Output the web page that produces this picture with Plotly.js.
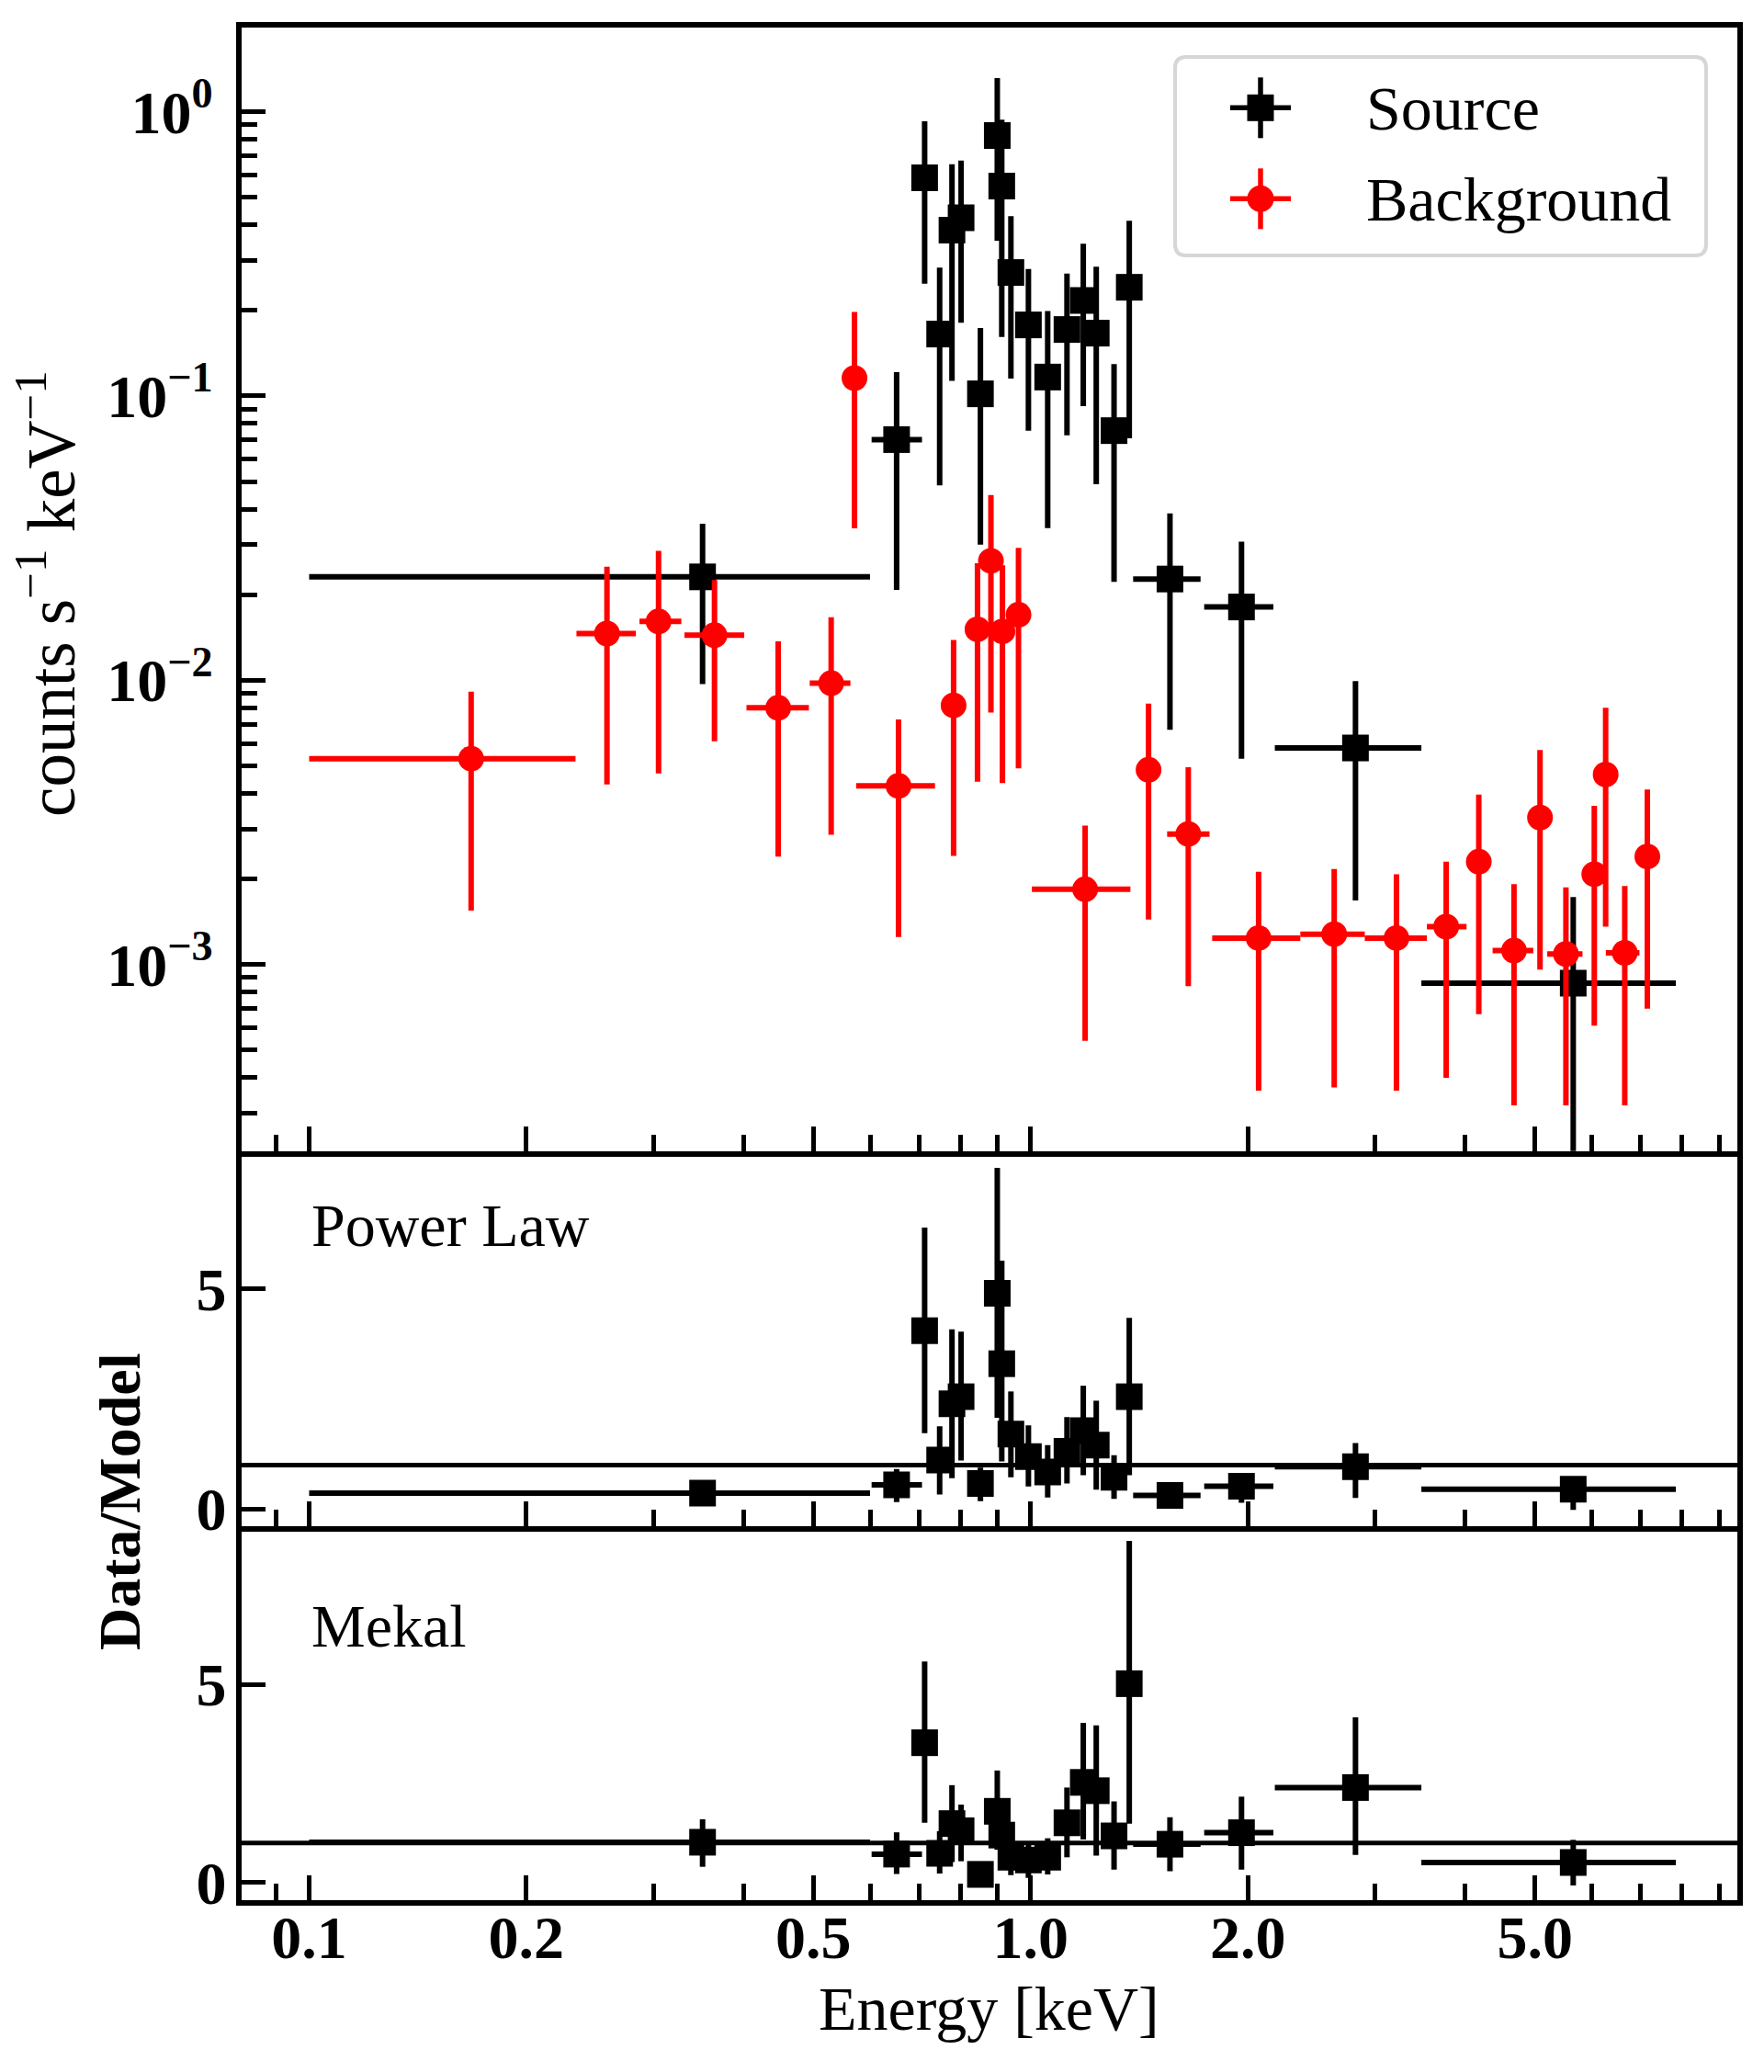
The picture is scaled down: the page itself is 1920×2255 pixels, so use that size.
<!DOCTYPE html>
<html>
<head>
<meta charset="utf-8">
<script src="https://cdn.plot.ly/plotly-3.0.1.min.js"></script>
<style>
  html, body { margin: 0; padding: 0; background: #fff; }
  #chart { width: 1920px; height: 2255px; }
</style>
</head>
<body>
<div id="chart"></div>
<script>
// Source spectrum (keV), bin half-widths below / above
const srcEnergy = [0.351, 0.652, 0.713, 0.748, 0.778, 0.801, 0.852, 0.899, 0.912, 0.939, 0.993,
                   1.056, 1.123, 1.183, 1.233, 1.305, 1.370, 1.560, 1.960, 2.820, 5.650];
const srcEMinus = [0.251, 0.050, 0.015, 0.015, 0.015, 0.015, 0.015, 0.015, 0.015, 0.015, 0.020,
                   0.020, 0.020, 0.020, 0.020, 0.020, 0.020, 0.173, 0.220, 0.640, 2.170];
const srcEPlus  = [0.248, 0.055, 0.015, 0.015, 0.015, 0.015, 0.015, 0.015, 0.015, 0.015, 0.020,
                   0.020, 0.020, 0.020, 0.020, 0.020, 0.020, 0.160, 0.210, 0.660, 2.190];

// counts s^-1 keV^-1
const srcRate   = [0.0231, 0.0702, 0.585, 0.165, 0.383, 0.423, 0.1017, 0.823, 0.547, 0.2716, 0.1777,
                   0.1165, 0.1712, 0.2166, 0.1662, 0.0755, 0.241, 0.0227, 0.0181, 0.00578, 0.00086];
const srcRateUp = [0.0124, 0.051, 0.34, 0.1175, 0.27, 0.25, 0.0716, 0.487, 0.39, 0.157, 0.102,
                   0.0822, 0.0983, 0.1262, 0.1183, 0.0538, 0.172, 0.0159, 0.0126, 0.00416, 0.00087];
const srcRateDn = [0.0134, 0.0494, 0.337, 0.1165, 0.27, 0.242, 0.0717, 0.472, 0.386, 0.1566, 0.1022,
                   0.0822, 0.0985, 0.1246, 0.1173, 0.0533, 0.170, 0.016, 0.0128, 0.0041, 0.000859];

// Data / Model, power law
const plRatio = [0.36, 0.55, 4.05, 1.11, 2.39, 2.55, 0.58, 4.90, 3.30, 1.70, 1.19,
                 0.84, 1.31, 1.78, 1.45, 0.72, 2.55, 0.31, 0.52, 0.96, 0.45];
const plUp    = [0.23, 0.36, 2.34, 0.77, 1.69, 1.48, 0.36, 2.85, 2.34, 0.97, 0.71,
                 0.61, 0.78, 1.02, 1.01, 0.50, 1.79, 0.20, 0.27, 0.54, 0.27];
const plDn    = [0.25, 0.39, 2.33, 0.78, 1.69, 1.45, 0.40, 2.83, 2.22, 0.98, 0.68,
                 0.58, 0.73, 1.01, 1.01, 0.49, 1.78, 0.22, 0.38, 0.71, 0.47];

// Data / Model, mekal
const mekRatio = [1.02, 0.72, 3.53, 0.74, 1.49, 1.31, 0.21, 1.80, 1.20, 0.64, 0.57,
                  0.64, 1.51, 2.53, 2.32, 1.18, 5.02, 0.97, 1.26, 2.40, 0.51];
const mekUp    = [0.58, 0.55, 2.05, 0.56, 0.97, 0.66, 0.15, 1.03, 0.60, 0.45, 0.45,
                  0.48, 0.89, 1.50, 1.65, 0.87, 3.60, 0.68, 0.91, 1.77, 0.57];
const mekDn    = [0.62, 0.50, 2.02, 0.51, 0.97, 0.77, 0.15, 0.97, 0.60, 0.45, 0.45,
                  0.43, 0.87, 1.44, 1.64, 0.85, 3.53, 0.68, 0.93, 1.70, 0.58];

// Background spectrum
const bkgEnergy = [0.1677, 0.2587, 0.305, 0.3646, 0.4468, 0.5291, 0.570, 0.656, 0.782, 0.844, 0.881,
                   0.914, 0.962, 1.19, 1.457, 1.654, 2.07, 2.635, 3.214, 3.767, 4.18,
                   4.677, 5.082, 5.52, 6.043, 6.266, 6.66, 7.158];
const bkgEMinus = [0.0677, 0.024, 0.018, 0.0333, 0.043, 0.035, 0.008, 0.083, 0.02, 0.02, 0.01,
                   0.01, 0.015, 0.186, 0.03, 0.108, 0.285, 0.27, 0.309, 0.225, 0.06,
                   0.309, 0.06, 0.32, 0.08, 0.05, 0.39, 0.1];
const bkgEPlus  = [0.0663, 0.025, 0.023, 0.0363, 0.046, 0.0335, 0.008, 0.081, 0.02, 0.02, 0.01,
                   0.01, 0.015, 0.185, 0.03, 0.116, 0.295, 0.27, 0.328, 0.253, 0.06,
                   0.297, 0.06, 0.30, 0.08, 0.05, 0.32, 0.1];
const bkgRate   = [0.0053, 0.0146, 0.0161, 0.0144, 0.0080, 0.00976, 0.1155, 0.00425, 0.00816, 0.0151, 0.0263,
                   0.01485, 0.0170, 0.00184, 0.00484, 0.00288, 0.00124, 0.00128, 0.00124, 0.00136, 0.0023,
                   0.00112, 0.00329, 0.00109, 0.00208, 0.00466, 0.0011, 0.0024];
const bkgRateUp = [0.00382, 0.0105, 0.0124, 0.0081, 0.0057, 0.0069, 0.0818, 0.00303, 0.0057, 0.0107, 0.0185,
                   0.0105, 0.0122, 0.00124, 0.00344, 0.00206, 0.00088, 0.00089, 0.00084, 0.00094, 0.00166,
                   0.0008, 0.00239, 0.00078, 0.00154, 0.00334, 0.00079, 0.00173];
const bkgRateDn = [0.00375, 0.0103, 0.0114, 0.0083, 0.0056, 0.0069, 0.0813, 0.003, 0.00575, 0.0107, 0.0186,
                   0.0105, 0.0121, 0.0013, 0.0034, 0.00204, 0.00088, 0.00091, 0.00088, 0.00096, 0.00163,
                   0.0008, 0.00233, 0.00077, 0.00147, 0.0033, 0.00078, 0.0017];

const W = 1920, H = 2255;
const px = x => x / W;
const py = y => 1 - y / H;
const SERIF = 'Liberation Serif';

function errTrace(x, xm, xp, y, yu, yd, color, symbol, size, xa, ya) {
  return {
    x: x, y: y, xaxis: xa, yaxis: ya,
    type: 'scatter', mode: 'markers',
    marker: { symbol: symbol, size: size, color: color, line: { width: 0 } },
    error_x: { type: 'data', symmetric: false, array: xp, arrayminus: xm,
               color: color, thickness: 6, width: 0 },
    error_y: { type: 'data', symmetric: false, array: yu, arrayminus: yd,
               color: color, thickness: 6, width: 0 },
    showlegend: false, hoverinfo: 'skip'
  };
}

const traces = [
  errTrace(srcEnergy, srcEMinus, srcEPlus, srcRate, srcRateUp, srcRateDn, '#000000', 'square', 29, 'x3', 'y3'),
  errTrace(bkgEnergy, bkgEMinus, bkgEPlus, bkgRate, bkgRateUp, bkgRateDn, '#ff0000', 'circle', 28, 'x3', 'y3'),
  errTrace(srcEnergy, srcEMinus, srcEPlus, plRatio, plUp, plDn, '#000000', 'square', 29, 'x2', 'y2'),
  errTrace(srcEnergy, srcEMinus, srcEPlus, mekRatio, mekUp, mekDn, '#000000', 'square', 29, 'x', 'y')
];

// axis ticks
const xMajor = [0.1, 0.2, 0.5, 1, 2, 5];
const xMajorText = ['0.1', '0.2', '0.5', '1.0', '2.0', '5.0'];
const xMinor = [0.09, 0.3, 0.4, 0.6, 0.7, 0.8, 0.9, 3, 4, 6, 7, 8, 9];
const yMajor = [0.001, 0.01, 0.1, 1];
const yMajorText = ['10<sup>−3</sup>', '10<sup>−2</sup>', '10<sup>−1</sup>', '10<sup>0</sup>'];
const yMinor = [];
[1e-4, 1e-3, 1e-2, 1e-1].forEach(d => { for (let k = 2; k <= 9; k++) yMinor.push(k * d); });

const tickFont = { family: SERIF, size: 66, color: '#000', weight: 'bold' };
const xDomain = [px(262.5), px(1891)];
const xRange = [Math.log10(0.0805), Math.log10(9.54)];

function xAxis(anchor, labels, mirror) {
  return {
    type: 'log', domain: xDomain, range: xRange, anchor: anchor,
    tickvals: xMajor, ticktext: xMajorText, showticklabels: labels,
    ticks: 'inside', ticklen: 27, tickwidth: 5, tickcolor: '#000',
    minor: { tickvals: xMinor, ticks: 'inside', ticklen: 18, tickwidth: 4.5, tickcolor: '#000', showgrid: false },
    showline: true, linewidth: 5.5, linecolor: '#000', mirror: mirror,
    showgrid: false, zeroline: false, automargin: false,
    tickfont: tickFont, ticklabelstandoff: -22
  };
}

function yLin(domain, range, anchor) {
  return {
    domain: domain, range: range, anchor: anchor,
    tickvals: [0, 5], ticktext: ['0', '5'],
    ticks: 'inside', ticklen: 27, tickwidth: 5, tickcolor: '#000',
    showline: true, linewidth: 5.5, linecolor: '#000', mirror: true,
    showgrid: false, zeroline: false, automargin: false,
    tickfont: tickFont, ticklabelstandoff: -3
  };
}

const layout = {
  width: W, height: H,
  margin: { l: 0, r: 0, t: 0, b: 0 },
  paper_bgcolor: '#fff', plot_bgcolor: '#fff',
  showlegend: false,
  font: { family: SERIF, color: '#000' },
  xaxis: xAxis('y', true, false),
  xaxis2: xAxis('y2', false, false),
  xaxis3: xAxis('y3', false, true),
  yaxis: yLin([py(2067.7), py(1660.7)], [-0.435, 9.0], 'x'),
  yaxis2: yLin([py(1660.7), py(1252.7)], [-0.384, 8.13], 'x2'),
  yaxis3: {
    type: 'log', domain: [py(1252.7), py(29.6)], anchor: 'x3',
    range: [Math.log10(2.21e-4), Math.log10(1.98)],
    tickvals: yMajor, ticktext: yMajorText,
    ticks: 'inside', ticklen: 27, tickwidth: 5, tickcolor: '#000',
    minor: { tickvals: yMinor, ticks: 'inside', ticklen: 18, tickwidth: 4.5, tickcolor: '#000', showgrid: false },
    showline: true, linewidth: 5.5, linecolor: '#000', mirror: true,
    showgrid: false, zeroline: false, automargin: false,
    tickfont: tickFont, ticklabelstandoff: 12
  },
  shapes: [
    // model = data reference lines
    { type: 'line', xref: 'paper', yref: 'y2', x0: xDomain[0], x1: xDomain[1], y0: 1, y1: 1,
      line: { color: '#000', width: 5 }, layer: 'below' },
    { type: 'line', xref: 'paper', yref: 'y', x0: xDomain[0], x1: xDomain[1], y0: 1, y1: 1,
      line: { color: '#000', width: 5 }, layer: 'below' }
  ],
  annotations: []
};

// legend box (rounded) and symbols
(function legend() {
  const x0 = 1279, x1 = 1857, y0 = 62, y1 = 278, r = 12;
  const rx = r / W, ry = r / H;
  const L = px(x0), R = px(x1), T = py(y0), B = py(y1);
  const path = `M ${L + rx},${T} L ${R - rx},${T} Q ${R},${T} ${R},${T - ry} L ${R},${B + ry} Q ${R},${B} ${R - rx},${B}` +
               ` L ${L + rx},${B} Q ${L},${B} ${L},${B + ry} L ${L},${T - ry} Q ${L},${T} ${L + rx},${T} Z`;
  layout.shapes.push({ type: 'path', xref: 'paper', yref: 'paper', path: path,
    fillcolor: 'rgba(255,255,255,0.8)', line: { color: '#d6d6d6', width: 4 }, layer: 'above' });

  const items = [
    { cy: 117.3, color: '#000000', kind: 'rect', label: 'Source' },
    { cy: 216.3, color: '#ff0000', kind: 'circle', label: 'Background' }
  ];
  const cx = 1372;
  items.forEach(it => {
    layout.shapes.push({ type: 'line', xref: 'paper', yref: 'paper', x0: px(1339), x1: px(1405),
      y0: py(it.cy), y1: py(it.cy), line: { color: it.color, width: 5.5 }, layer: 'above' });
    layout.shapes.push({ type: 'line', xref: 'paper', yref: 'paper', x0: px(cx), x1: px(cx),
      y0: py(it.cy - 33), y1: py(it.cy + 33), line: { color: it.color, width: 5.5 }, layer: 'above' });
    layout.shapes.push({ type: it.kind, xref: 'paper', yref: 'paper',
      x0: px(cx - 14.5), x1: px(cx + 14.5), y0: py(it.cy - 14.5), y1: py(it.cy + 14.5),
      fillcolor: it.color, line: { width: 0 }, layer: 'above' });
    layout.annotations.push({ xref: 'paper', yref: 'paper', x: px(1485), y: py(it.cy + 1),
      xanchor: 'left', yanchor: 'middle', showarrow: false, text: it.label,
      font: { family: SERIF, size: 68, color: '#000' } });
  });
})();

const textAnn = (text, x, y, size, extra) => Object.assign({
  xref: 'paper', yref: 'paper', x: x, y: y, showarrow: false, text: text,
  font: { family: SERIF, size: size, color: '#000' }
}, extra || {});

layout.annotations.push(
  textAnn('Power Law', px(337), py(1333), 66, { xanchor: 'left', yanchor: 'middle' }),
  textAnn('Mekal', px(337), py(1769.5), 66, { xanchor: 'left', yanchor: 'middle' }),
  textAnn('counts s<sup>−1</sup> keV<sup>−1</sup>', px(50), py(646), 73,
          { xanchor: 'center', yanchor: 'middle', textangle: -90 }),
  textAnn('Data/Model', px(130), py(1634), 64,
          { xanchor: 'center', yanchor: 'middle', textangle: -90,
            font: { family: SERIF, size: 64, color: '#000', weight: 'bold' } }),
  textAnn('Energy [keV]', px(1076.7), py(2186), 68, { xanchor: 'center', yanchor: 'middle' })
);

Plotly.newPlot('chart', traces, layout, { displayModeBar: false, responsive: false });
</script>
</body>
</html>
